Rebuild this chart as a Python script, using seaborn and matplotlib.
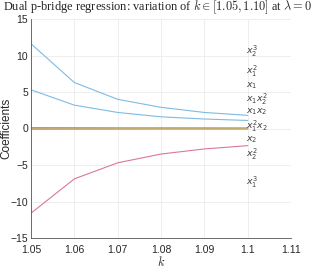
import pandas as pd
import seaborn as sns
import matplotlib.pyplot as plt

# k values and coefficient paths
k_vals = [1.05, 1.06, 1.07, 1.08, 1.09, 1.10]
terms = ['x2^3', 'x1^2', 'x1', 'x1x2^2', 'x1x2', 'x1^2x2', 'x2', 'x2^2', 'x1^3']
coef_x2_3 = [11.6, 6.3, 4.0, 2.9, 2.2, 1.8]
coef_x1_2 = [5.3, 3.2, 2.2, 1.6, 1.3, 1.1]
coef_x1 = [0.12, 0.1, 0.08, 0.08, 0.07, 0.06]
coef_x1x2_2 = [0.05, 0.04, 0.04, 0.03, 0.03, 0.03]
coef_x1x2 = [0.02, 0.02, 0.01, 0.01, 0.01, 0.01]
coef_x1_2x2 = [-0.02, -0.02, -0.01, -0.01, -0.01, -0.01]
coef_x2 = [-0.06, -0.05, -0.05, -0.04, -0.04, -0.04]
coef_x2_2 = [-0.12, -0.1, -0.09, -0.08, -0.08, -0.07]
coef_x1_3 = [-11.6, -6.9, -4.7, -3.5, -2.8, -2.35]
all_coefs = [coef_x2_3, coef_x1_2, coef_x1, coef_x1x2_2, coef_x1x2,
             coef_x1_2x2, coef_x2, coef_x2_2, coef_x1_3]

label_tex = [r'$x_2^3$', r'$x_1^2$', r'$x_1$', r'$x_1x_2^2$', r'$x_1x_2$',
             r'$x_1^2x_2$', r'$x_2$', r'$x_2^2$', r'$x_1^3$']
label_y = [10.6, 7.8, 5.8, 4.0, 2.3, 0.3, -1.5, -3.5, -7.4]

rows = []
for t, vals in zip(terms, all_coefs):
    for k, v in zip(k_vals, vals):
        rows.append({'k': k, 'coef': v, 'term': t})
df = pd.DataFrame(rows)

palette = {'x2^3': '#7dbbe3', 'x1^2': '#7dbbe3', 'x1': '#b88ab8',
           'x1x2^2': '#c98aa8', 'x1x2': '#b07fb0', 'x1^2x2': '#d08aa0',
           'x2': '#c8b56a', 'x2^2': '#bfae62', 'x1^3': '#dc7891'}

sns.set_style('whitegrid')
plt.rcParams['font.family'] = ['Liberation Sans', 'DejaVu Sans']
plt.rcParams['mathtext.fontset'] = 'cm'

fig = plt.figure(figsize=(3.16, 2.73), dpi=100)
ax = fig.add_axes([31 / 316, 1 - 238 / 273, 260 / 316, 219 / 273])

sns.lineplot(data=df, x='k', y='coef', hue='term', palette=palette,
             linewidth=0.8, legend=False, ax=ax)

for lab, y in zip(label_tex, label_y):
    ax.text(1.0995, y, lab, fontsize=6.8, color='#404040', va='center', ha='left',
            math_fontfamily='dejavusans')

ax.set_xlim(1.05, 1.11)
ax.set_ylim(-15, 15)
ax.set_xticks([1.05, 1.06, 1.07, 1.08, 1.09, 1.10, 1.11])
ax.set_xticklabels(['1.05', '1.06', '1.07', '1.08', '1.09', '1.1', '1.11'])
ax.set_yticks([-15, -10, -5, 0, 5, 10, 15])
ax.tick_params(labelsize=7.5, colors='#262626', length=2, direction='in', pad=2)
ax.tick_params(axis='x', pad=5)
ax.grid(color='#ebebeb', linewidth=0.6)
for s in ['top', 'right']:
    ax.spines[s].set_visible(False)
for s in ['left', 'bottom']:
    ax.spines[s].set_color('#555555')
    ax.spines[s].set_linewidth(0.6)

ax.set_xlabel(r'$k$', fontsize=9, labelpad=0)
ax.set_ylabel('Coefficients', fontsize=8.5)
ax.yaxis.set_label_coords(-0.07, 0.5)
ax.set_title(r'Dual p-bridge regression: variation of $k \in [1.05, 1.10]$ at $\lambda = 0$',
             fontsize=8.9, family='Liberation Serif', pad=6, x=0.488)

fig.savefig('out.png', dpi=100)
